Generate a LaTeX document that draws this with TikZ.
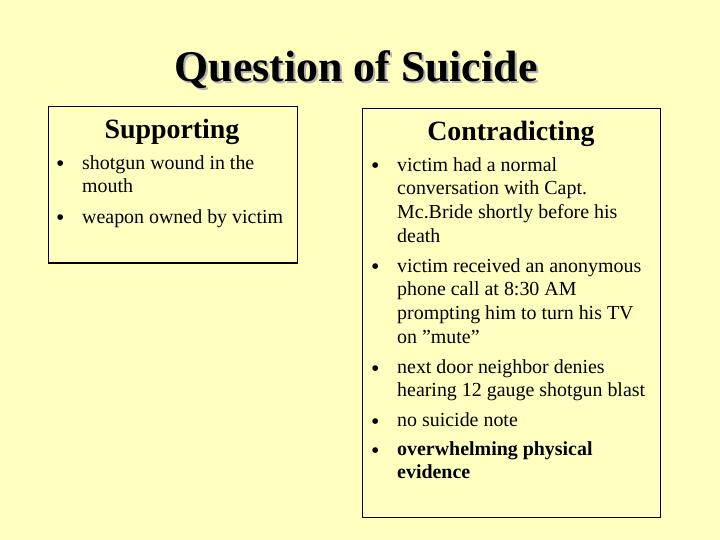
\documentclass[tikz,border=0pt]{standalone}
\usepackage{fontspec}
\setmainfont{Liberation Serif}
\definecolor{bg}{RGB}{255,255,192}
\begin{document}
\begin{tikzpicture}[x=1bp,y=-1bp,
  txt/.style={anchor=north west,inner sep=0pt,align=left,font=\fontsize{20}{24}\selectfont},
  bul/.style={anchor=base west,inner sep=0pt,font=\fontsize{24}{24}\selectfont},
  hdr/.style={anchor=base,inner sep=0pt,font=\fontsize{28}{32}\selectfont\bfseries},
  box/.style={draw=black,line width=1bp}]
\fill[bg] (0,0) rectangle (720,540);
\useasboundingbox (0,0) rectangle (720,540);
\node[anchor=base,inner sep=0pt,font=\fontsize{44}{50}\selectfont\bfseries,text=gray!60] (ts) at (358,84) {Question of Suicide};
\node[anchor=base,inner sep=0pt,font=\fontsize{44}{50}\selectfont\bfseries] (t) at (356,82) {Question of Suicide};
\draw[box] (48,107) rectangle (297,263);
\draw[box] (362,109) rectangle (660,517);
\node[hdr] (h1) at (172,139) {Supporting};
\node[hdr] (h2) at (511,141) {Contradicting};
\node[bul] (b1) at (56,172) {•};
\node[txt] (l1) at (82,155) {shotgun wound in the\\mouth};
\node[bul] (b2) at (56,226) {•};
\node[txt] (l2) at (82,209) {weapon owned by victim};
\node[bul] (c1) at (371,174) {•};
\node[txt] (r1) at (397,157) {victim had a normal\\conversation with Capt.\\Mc.Bride shortly before his\\death};
\node[bul] (c2) at (371,275) {•};
\node[txt] (r2) at (397,258) {victim received an anonymous\\phone call at 8:30 AM\\prompting him to turn his TV\\on \symbol{34}mute\symbol{34}};
\node[bul] (c3) at (371,376) {•};
\node[txt] (r3) at (397,359) {next door neighbor denies\\hearing 12 gauge shotgun blast};
\node[bul] (c4) at (371,429) {•};
\node[txt] (r4) at (397,412) {no suicide note};
\node[bul] (c5) at (371,458) {•};
\node[txt,font=\fontsize{20}{24}\selectfont\bfseries] (r5) at (397,441) {overwhelming physical\\evidence};
\end{tikzpicture}
\end{document}
